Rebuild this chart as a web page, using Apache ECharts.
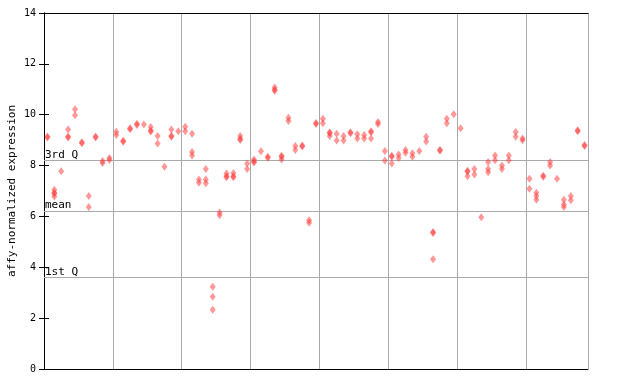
<!DOCTYPE html>
<html>
<head>
<meta charset="utf-8">
<script src="https://cdn.jsdelivr.net/npm/echarts@6/dist/echarts.min.js"></script>
<style>html,body{margin:0;padding:0;background:#fff;}#chart{width:640px;height:384px;}</style>
</head>
<body>
<div id="chart"></div>
<script>
// replicate expression values for each of the 79 samples (left to right)
const sampleValues = [
  [9.14, 9.10], [7.05, 6.93, 6.90, 6.78], [7.78], [9.42, 9.14, 9.10], [10.21, 9.98],
  [8.92, 8.88], [6.80, 6.37], [9.14, 9.10], [8.18, 8.10], [8.30, 8.22],
  [9.33, 9.20], [8.98, 8.94], [9.47, 9.43], [9.64, 9.60], [9.62],
  [9.52, 9.38, 9.34], [9.16, 8.87], [7.95], [9.42, 9.17, 9.13], [9.35],
  [9.53, 9.35], [9.25, 8.53, 8.40], [7.45, 7.32], [7.87, 7.45, 7.30], [3.23, 2.84, 2.33],
  [6.15, 6.05], [7.69, 7.58, 7.54], [7.71, 7.58, 7.54], [9.16, 9.05, 9.01], [8.08, 7.87],
  [8.24, 8.16, 8.12], [8.56], [8.35, 8.31], [11.07, 10.98, 10.94], [8.39, 8.35, 8.24],
  [9.88, 9.75], [8.77, 8.61], [8.79, 8.75], [5.85, 5.75], [9.67, 9.63],
  [9.84, 9.66], [9.31, 9.27, 9.16], [9.25, 8.99], [9.16, 8.99], [9.31, 9.27],
  [9.23, 9.06], [9.20, 9.06], [9.35, 9.31, 9.06], [9.71, 9.63], [8.57, 8.20],
  [8.39, 8.35, 8.08], [8.44, 8.30], [8.61, 8.50], [8.48, 8.35], [8.57],
  [9.13, 8.95], [5.39, 5.35, 4.32], [8.62, 8.58], [9.84, 9.66], [10.02],
  [9.47], [7.80, 7.76, 7.58], [7.87, 7.65], [5.97], [8.14, 7.87, 7.74],
  [8.40, 8.21], [8.00, 7.87], [8.40, 8.21], [9.32, 9.13], [9.06, 9.00],
  [7.48, 7.09], [6.93, 6.80, 6.66], [7.60, 7.56], [8.14, 8.00], [7.48],
  [6.66, 6.47, 6.37], [6.80, 6.64], [9.39, 9.35], [8.81, 8.77]
];
const refNames = ['3rd Q', 'mean', '1st Q'];
const refValues = [8.20, 6.22, 3.61];
const yTickValues = [0, 2, 4, 6, 8, 10, 12, 14];
const yAxisTitle = 'affy-normalized expression';

const points = [];
sampleValues.forEach((vals, i) => vals.forEach(v => points.push([i + 0.5, v])));

const mono = 'DejaVu Sans Mono';
const chart = echarts.init(document.getElementById('chart'), null, {renderer: 'canvas'});
chart.setOption({
  animation: false,
  backgroundColor: '#fff',
  grid: {left: 44, right: 52, top: 13, bottom: 15, containLabel: false, outerBoundsMode: 'none'},
  xAxis: [{
    type: 'value', min: 0, max: sampleValues.length, interval: 10,
    axisLine: {show: true, onZero: false, lineStyle: {color: '#000', width: 1}},
    axisTick: {show: false}, axisLabel: {show: false},
    splitLine: {show: true, lineStyle: {color: '#aaaaaa', width: 1}}
  }, {
    type: 'value', position: 'top', min: 0, max: sampleValues.length,
    axisLine: {show: true, onZero: false, lineStyle: {color: '#000', width: 1}},
    axisTick: {show: false}, axisLabel: {show: false}, splitLine: {show: false}
  }],
  yAxis: [{
    type: 'value', min: yTickValues[0], max: yTickValues[yTickValues.length - 1], interval: 2,
    name: yAxisTitle, nameLocation: 'middle', nameGap: 26, nameMoveOverlap: false,
    nameTextStyle: {fontFamily: mono, fontSize: 11, color: '#000'},
    axisLine: {show: true, lineStyle: {color: '#000', width: 1}},
    axisTick: {show: true, inside: true, length: 5, lineStyle: {color: '#000'}},
    axisLabel: {fontFamily: mono, fontSize: 10, color: '#000', margin: 8},
    splitLine: {show: false}
  }, {
    type: 'value', position: 'right', min: yTickValues[0], max: yTickValues[yTickValues.length - 1], interval: 2,
    axisLine: {show: true, lineStyle: {color: '#000', width: 1}},
    axisTick: {show: true, inside: true, length: 5, lineStyle: {color: '#000'}},
    axisLabel: {show: false}, splitLine: {show: false}
  }],
  series: [{
    type: 'scatter',
    data: points,
    symbol: 'diamond',
    symbolSize: [6, 8],
    itemStyle: {color: 'rgba(255,60,60,0.65)'},
    z: 5,
    markLine: {
      silent: true,
      symbol: 'none',
      animation: false,
      lineStyle: {color: '#aaaaaa', width: 1, type: 'solid'},
      label: {
        show: true, position: 'insideStartTop', distance: [1, 0],
        formatter: p => p.name,
        fontFamily: mono, fontSize: 11, color: '#000'
      },
      data: refNames.map((n, k) => ({name: n, yAxis: refValues[k]}))
    }
  }]
});
</script>
</body>
</html>
